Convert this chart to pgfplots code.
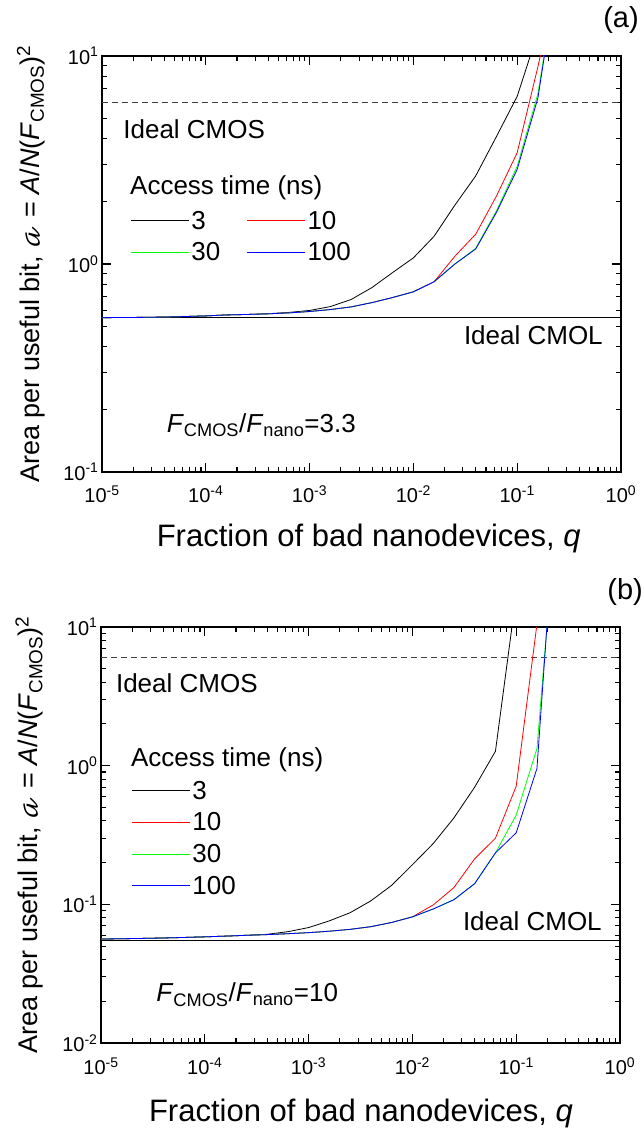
\documentclass[border=0pt]{standalone}
\usepackage{pgfplots}
\pgfplotsset{compat=1.18}
\usepackage{fontspec}
\setmainfont{Liberation Sans}
\newfontfamily\djvm{DejaVu Math TeX Gyre}

\newcommand{\limg}[1]{\addlegendimage{legend image code/.code={\draw[#1, line width=1.2pt] (0pt,0pt) -- (58pt,0pt);}}}
\newcommand{\tlab}{\pgfmathtruncatemacro{\myex}{round(\tick)}10\textsuperscript{\myex}}

\begin{document}
\begin{tikzpicture}
\useasboundingbox (0,0) rectangle (644pt,1135pt);
% ---------------- panel (a)
\begin{axis}[at={(102pt,663pt)}, anchor=south west,
  xmode=log, ymode=log, log basis x=10, log basis y=10,
  scale only axis, width=519pt, height=416pt,
  xmin=1e-5, xmax=1, ymin=0.1, ymax=10,
  axis line style={line width=1.4pt},
  every tick/.style={line width=1.1pt, black},
  major tick length=9pt, minor tick length=5pt,
  tick align=inside,
  xticklabel={\tlab}, yticklabel={\tlab},
  tick label style={font=\fontsize{20}{24}\selectfont},
  xticklabel style={yshift=-10pt},
  ylabel={Area per useful bit, {\djvm 𝒶} = \textit{A}/\textit{N}(\textit{F}\textsubscript{CMOS})\textsuperscript{2}},
  xlabel={Fraction of bad nanodevices, \textit{q}},
  clip mode=individual,
  legend cell align=left,
  every axis y label/.style={at={(axis description cs:-0.137,0.5)}, rotate=90, anchor=center, font=\fontsize{27}{32}\selectfont},
  every axis x label/.style={at={(axis description cs:0.514,-0.159)}, anchor=center, font=\fontsize{31}{36}\selectfont},
  legend columns=2,
  legend style={draw=none, fill=none, font=\fontsize{26}{30}\selectfont,
    at={(0.054,0.633)}, anchor=north west, inner sep=0pt, row sep=8pt,
    /tikz/every even column/.append style={column sep=24pt}},
]
\limg{black}\addlegendentry{3}
\limg{red}\addlegendentry{10}
\limg{green}\addlegendentry{30}
\limg{blue}\addlegendentry{100}
\addplot[black!75, line width=1pt, dash pattern=on 6pt off 4pt, forget plot] coordinates {(1e-5,6) (1,6)};
\addplot[black, line width=1pt, forget plot] coordinates {(1e-5,0.55) (1,0.55)};
\addplot[black, line width=0.8pt, forget plot] coordinates {
(1e-5,0.552) (1.585e-5,0.553) (2.512e-5,0.554) (3.981e-5,0.556) (6.31e-5,0.559)
(1e-4,0.563) (1.585e-4,0.569) (2.512e-4,0.572) (3.981e-4,0.577) (6.31e-4,0.585)
(1e-3,0.598) (1.585e-3,0.624) (2.512e-3,0.675) (3.981e-3,0.77) (6.31e-3,0.91)
(1e-2,1.07) (1.585e-2,1.36) (2.512e-2,1.92) (3.981e-2,2.65) (6.31e-2,4.1)
(0.1,6.4) (0.1585,13)};
\addplot[red, line width=0.8pt, forget plot] coordinates {
(1e-5,0.552) (1.585e-5,0.553) (2.512e-5,0.554) (3.981e-5,0.556) (6.31e-5,0.559)
(1e-4,0.563) (1.585e-4,0.569) (2.512e-4,0.572) (3.981e-4,0.576) (6.31e-4,0.582)
(1e-3,0.591) (1.585e-3,0.604) (2.512e-3,0.622) (3.981e-3,0.652) (6.31e-3,0.69)
(1e-2,0.735) (1.585e-2,0.822) (2.512e-2,1.09) (3.981e-2,1.39) (6.31e-2,2.12)
(0.1,3.43) (0.1585,8.9) (0.2512,25)};
\addplot[green, line width=0.8pt, forget plot] coordinates {
(1e-5,0.552) (1.585e-5,0.553) (2.512e-5,0.554) (3.981e-5,0.556) (6.31e-5,0.559)
(1e-4,0.563) (1.585e-4,0.569) (2.512e-4,0.572) (3.981e-4,0.576) (6.31e-4,0.582)
(1e-3,0.591) (1.585e-3,0.604) (2.512e-3,0.622) (3.981e-3,0.652) (6.31e-3,0.69)
(1e-2,0.735) (1.585e-2,0.822) (2.512e-2,1.0) (3.981e-2,1.19) (6.31e-2,1.8)
(0.1,2.95) (0.1585,6.6) (0.2512,28)};
\addplot[blue, line width=0.8pt, forget plot] coordinates {
(1e-5,0.552) (1.585e-5,0.553) (2.512e-5,0.554) (3.981e-5,0.556) (6.31e-5,0.559)
(1e-4,0.563) (1.585e-4,0.569) (2.512e-4,0.572) (3.981e-4,0.576) (6.31e-4,0.582)
(1e-3,0.591) (1.585e-3,0.604) (2.512e-3,0.622) (3.981e-3,0.652) (6.31e-3,0.69)
(1e-2,0.735) (1.585e-2,0.822) (2.512e-2,1.0) (3.981e-2,1.18) (6.31e-2,1.77)
(0.1,2.85) (0.1585,6.3) (0.2512,28)};
\node[anchor=base west, inner sep=0pt, font=\fontsize{26}{30}\selectfont] at (axis cs:1.6e-5,4.0) {Ideal CMOS};
\node[anchor=base east, inner sep=0pt, font=\fontsize{26}{30}\selectfont] at (axis cs:0.67,0.412) {Ideal CMOL};
\node[anchor=base west, inner sep=0pt, font=\fontsize{26}{30}\selectfont] at (axis cs:1.86e-5,2.16) {Access time (ns)};
\node[anchor=base west, inner sep=0pt, font=\fontsize{26}{30}\selectfont] at (axis cs:4.2e-5,0.155) {\textit{F}\textsubscript{CMOS}/\textit{F}\textsubscript{nano}=3.3};
\node[anchor=base, inner sep=0pt, font=\fontsize{29}{34}\selectfont] at (rel axis cs:1.0,1.068) {(a)};
\end{axis}
% ---------------- panel (b)
\begin{axis}[at={(101pt,92pt)}, anchor=south west,
  xmode=log, ymode=log, log basis x=10, log basis y=10,
  scale only axis, width=519pt, height=416pt,
  xmin=1e-5, xmax=1, ymin=0.01, ymax=10,
  axis line style={line width=1.4pt},
  every tick/.style={line width=1.1pt, black},
  major tick length=9pt, minor tick length=5pt,
  tick align=inside,
  xticklabel={\tlab}, yticklabel={\tlab},
  tick label style={font=\fontsize{20}{24}\selectfont},
  xticklabel style={yshift=-11pt},
  ylabel={Area per useful bit, {\djvm 𝒶} = \textit{A}/\textit{N}(\textit{F}\textsubscript{CMOS})\textsuperscript{2}},
  xlabel={Fraction of bad nanodevices, \textit{q}},
  clip mode=individual,
  legend cell align=left,
  every axis y label/.style={at={(axis description cs:-0.138,0.5)}, rotate=90, anchor=center, font=\fontsize{27}{32}\selectfont},
  every axis x label/.style={at={(axis description cs:0.501,-0.169)}, anchor=center, font=\fontsize{31}{36}\selectfont},
  legend columns=1,
  legend style={draw=none, fill=none, font=\fontsize{26}{30}\selectfont,
    at={(0.058,0.635)}, anchor=north west, inner sep=0pt, row sep=8pt},
]
\limg{black}\addlegendentry{3}
\limg{red}\addlegendentry{10}
\limg{green}\addlegendentry{30}
\limg{blue}\addlegendentry{100}
\addplot[black!75, line width=1pt, dash pattern=on 6pt off 4pt, forget plot] coordinates {(1e-5,6) (1,6)};
\addplot[black, line width=1pt, forget plot] coordinates {(1e-5,0.055) (1,0.055)};
\addplot[black, line width=0.8pt, forget plot] coordinates {
(1e-5,0.0562) (1.585e-5,0.0565) (2.512e-5,0.0568) (3.981e-5,0.0572) (6.31e-5,0.0577)
(1e-4,0.0583) (1.585e-4,0.0590) (2.512e-4,0.0598) (3.981e-4,0.0608) (6.31e-4,0.0635)
(1e-3,0.0680) (1.585e-3,0.0760) (2.512e-3,0.0870) (3.981e-3,0.106) (6.31e-3,0.137)
(1e-2,0.193) (1.585e-2,0.274) (2.512e-2,0.42) (3.981e-2,0.70) (6.31e-2,1.27)
(0.1,17)};
\addplot[red, line width=0.8pt, forget plot] coordinates {
(1e-5,0.0562) (1.585e-5,0.0565) (2.512e-5,0.0568) (3.981e-5,0.0572) (6.31e-5,0.0577)
(1e-4,0.0583) (1.585e-4,0.0590) (2.512e-4,0.0598) (3.981e-4,0.0605) (6.31e-4,0.0614)
(1e-3,0.0625) (1.585e-3,0.0640) (2.512e-3,0.0660) (3.981e-3,0.0690) (6.31e-3,0.0740)
(1e-2,0.0812) (1.585e-2,0.099) (2.512e-2,0.132) (3.981e-2,0.213) (6.31e-2,0.30)
(0.1,0.71) (0.1585,10.5) (0.2512,200)};
\addplot[green, line width=0.8pt, forget plot] coordinates {
(1e-5,0.0562) (1.585e-5,0.0565) (2.512e-5,0.0568) (3.981e-5,0.0572) (6.31e-5,0.0577)
(1e-4,0.0583) (1.585e-4,0.0590) (2.512e-4,0.0598) (3.981e-4,0.0605) (6.31e-4,0.0614)
(1e-3,0.0625) (1.585e-3,0.0640) (2.512e-3,0.0660) (3.981e-3,0.0690) (6.31e-3,0.0740)
(1e-2,0.0812) (1.585e-2,0.0925) (2.512e-2,0.108) (3.981e-2,0.141) (6.31e-2,0.235)
(0.1,0.44) (0.1585,1.33) (0.2512,90)};
\addplot[blue, line width=0.8pt, forget plot] coordinates {
(1e-5,0.0562) (1.585e-5,0.0565) (2.512e-5,0.0568) (3.981e-5,0.0572) (6.31e-5,0.0577)
(1e-4,0.0583) (1.585e-4,0.0590) (2.512e-4,0.0598) (3.981e-4,0.0605) (6.31e-4,0.0614)
(1e-3,0.0625) (1.585e-3,0.0640) (2.512e-3,0.0660) (3.981e-3,0.0690) (6.31e-3,0.0740)
(1e-2,0.0812) (1.585e-2,0.0925) (2.512e-2,0.108) (3.981e-2,0.141) (6.31e-2,0.235)
(0.1,0.328) (0.1585,0.955) (0.2512,130)};
\node[anchor=base west, inner sep=0pt, font=\fontsize{26}{30}\selectfont] at (axis cs:1.39e-5,3.37) {Ideal CMOS};
\node[anchor=base east, inner sep=0pt, font=\fontsize{26}{30}\selectfont] at (axis cs:0.67,0.0647) {Ideal CMOL};
\node[anchor=base west, inner sep=0pt, font=\fontsize{26}{30}\selectfont] at (axis cs:1.94e-5,0.983) {Access time (ns)};
\node[anchor=base west, inner sep=0pt, font=\fontsize{26}{30}\selectfont] at (axis cs:3.4e-5,0.0198) {\textit{F}\textsubscript{CMOS}/\textit{F}\textsubscript{nano}=10};
\node[anchor=base, inner sep=0pt, font=\fontsize{29}{34}\selectfont] at (rel axis cs:1.01,1.067) {(b)};
\end{axis}
\end{tikzpicture}
\end{document}
